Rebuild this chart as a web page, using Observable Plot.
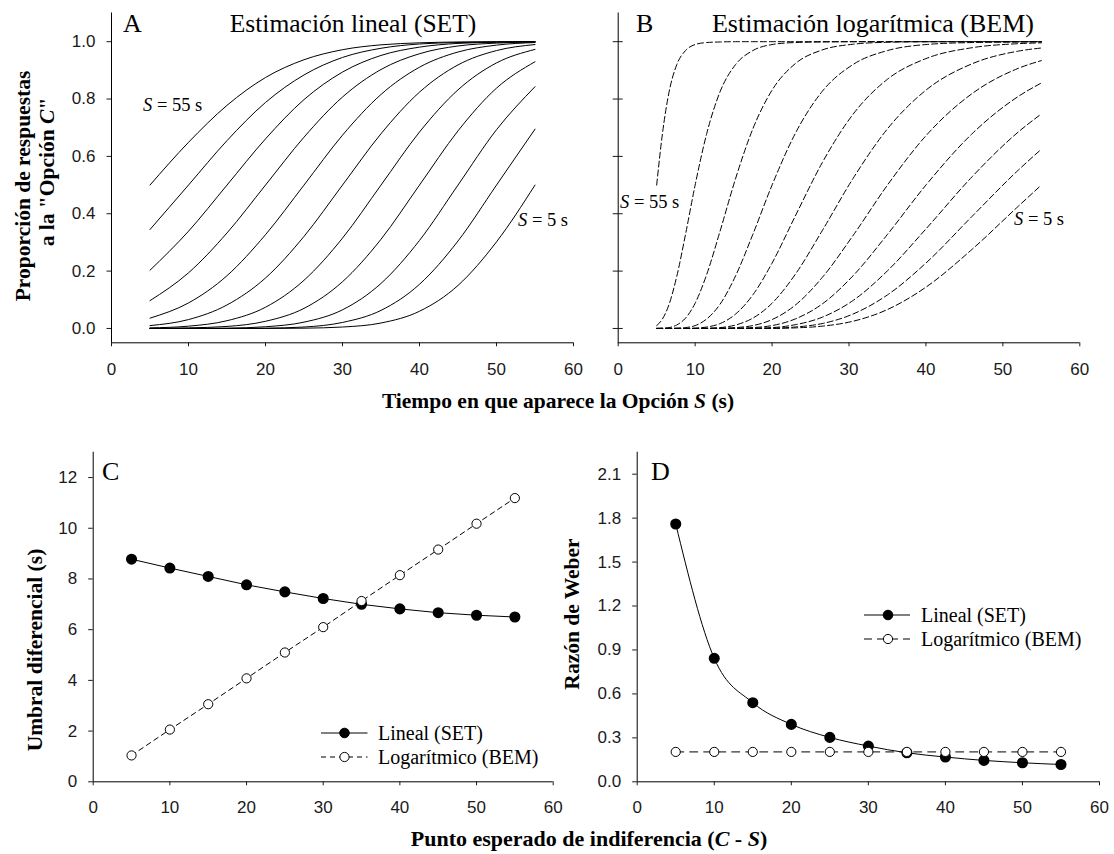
<!DOCTYPE html>
<html><head><meta charset="utf-8">
<script src="https://cdn.jsdelivr.net/npm/d3@7"></script>
<script src="https://cdn.jsdelivr.net/npm/@observablehq/plot@0.6"></script>
<style>
html,body{margin:0;padding:0;background:#fff;}
#fig{position:relative;width:1114px;height:854px;background:#fff;overflow:hidden;}
#fig svg{position:absolute;}
</style></head><body><div id="fig"></div>
<script>
// ---------- DATA ----------
const xTicks = [0, 10, 20, 30, 40, 50, 60];
const yTicksA = [0, 0.2, 0.4, 0.6, 0.8, 1.0];
const yTicksC = [0, 2, 4, 6, 8, 10, 12];
const yTicksD = [0, 0.3, 0.6, 0.9, 1.2, 1.5, 1.8, 2.1];
const yDomainA = [-0.05, 1.1];
const yDomainC = [0, 13];
const yDomainD = [0, 2.25];
const xDomain = [0, 60];

// curves labelled by S (s); S = 55 is the leftmost curve, S = 5 the rightmost
const curveS = [55, 50, 45, 40, 35, 30, 25, 20, 15, 10, 5];

// Panel A: linear estimation (SET) - proportion of "C" responses
const xA = [5, 10, 15, 20, 25, 30, 35, 40, 45, 50, 55];
const setCurves = [
  [0.500, 0.649, 0.778, 0.875, 0.937, 0.972, 0.989, 0.996, 0.999, 1.000, 1.000],
  [0.345, 0.500, 0.655, 0.788, 0.884, 0.945, 0.977, 0.992, 0.997, 0.999, 1.000],
  [0.203, 0.339, 0.500, 0.661, 0.798, 0.894, 0.952, 0.981, 0.994, 0.998, 1.000],
  [0.097, 0.194, 0.333, 0.500, 0.667, 0.807, 0.903, 0.958, 0.985, 0.995, 0.999],
  [0.036, 0.089, 0.184, 0.327, 0.500, 0.674, 0.816, 0.911, 0.964, 0.988, 0.997],
  [0.010, 0.031, 0.082, 0.176, 0.321, 0.500, 0.679, 0.824, 0.919, 0.969, 0.990],
  [0.002, 0.008, 0.027, 0.074, 0.168, 0.315, 0.500, 0.685, 0.832, 0.926, 0.973],
  [0.000, 0.002, 0.007, 0.025, 0.070, 0.163, 0.311, 0.500, 0.689, 0.838, 0.930],
  [0.000, 0.000, 0.001, 0.006, 0.022, 0.065, 0.157, 0.307, 0.500, 0.693, 0.843],
  [0.000, 0.000, 0.000, 0.001, 0.005, 0.021, 0.063, 0.154, 0.305, 0.500, 0.695],
  [0.000, 0.000, 0.000, 0.000, 0.001, 0.005, 0.019, 0.060, 0.150, 0.302, 0.500]
];

// Panel B: logarithmic estimation (BEM)
const xB = [5, 5.75, 6.6, 7.6, 8.75, 10, 11.5, 13.25, 15.25, 17.5, 20, 23, 26.5, 30.5, 35, 40, 46, 52, 55];
const bemCurves = [
  [0.500, 0.679, 0.823, 0.919, 0.969, 0.990, 0.997, 0.999, 1, 1, 1, 1, 1, 1, 1, 1, 1, 1, 1],
  [0.010, 0.033, 0.083, 0.180, 0.328, 0.500, 0.679, 0.826, 0.920, 0.969, 0.990, 0.997, 0.999, 1, 1, 1, 1, 1, 1],
  [0, 0.001, 0.003, 0.012, 0.036, 0.088, 0.188, 0.340, 0.522, 0.696, 0.831, 0.923, 0.971, 0.991, 0.998, 1, 1, 1, 1],
  [0, 0, 0, 0.001, 0.003, 0.010, 0.033, 0.085, 0.183, 0.328, 0.500, 0.679, 0.826, 0.920, 0.969, 0.990, 0.997, 0.999, 1.000],
  [0, 0, 0, 0, 0, 0.001, 0.005, 0.017, 0.050, 0.117, 0.228, 0.391, 0.577, 0.746, 0.869, 0.941, 0.979, 0.993, 0.996],
  [0, 0, 0, 0, 0, 0, 0.001, 0.003, 0.012, 0.036, 0.088, 0.188, 0.340, 0.522, 0.696, 0.831, 0.923, 0.967, 0.978],
  [0, 0, 0, 0, 0, 0, 0, 0.001, 0.003, 0.010, 0.031, 0.081, 0.177, 0.323, 0.500, 0.672, 0.819, 0.907, 0.934],
  [0, 0, 0, 0, 0, 0, 0, 0, 0.001, 0.003, 0.010, 0.033, 0.085, 0.183, 0.328, 0.500, 0.679, 0.809, 0.856],
  [0, 0, 0, 0, 0, 0, 0, 0, 0, 0.001, 0.003, 0.013, 0.039, 0.097, 0.201, 0.347, 0.529, 0.685, 0.748],
  [0, 0, 0, 0, 0, 0, 0, 0, 0, 0, 0.001, 0.005, 0.017, 0.050, 0.117, 0.228, 0.391, 0.552, 0.625],
  [0, 0, 0, 0, 0, 0, 0, 0, 0, 0, 0, 0.002, 0.008, 0.025, 0.066, 0.144, 0.276, 0.426, 0.500]
];

// Panels C and D: expected indifference point (C - S)
const xCD = [5, 10, 15, 20, 25, 30, 35, 40, 45, 50, 55];
const umbralSET = [8.78, 8.43, 8.10, 7.77, 7.49, 7.23, 7.00, 6.82, 6.67, 6.57, 6.50];
const umbralBEM = [1.04, 2.06, 3.06, 4.08, 5.10, 6.10, 7.13, 8.15, 9.16, 10.18, 11.19];
const weberSET = [1.76, 0.843, 0.54, 0.392, 0.303, 0.244, 0.198, 0.169, 0.146, 0.130, 0.118];
const weberBEM = [0.204, 0.204, 0.204, 0.204, 0.204, 0.204, 0.204, 0.204, 0.204, 0.204, 0.204];

// ---------- BUILD ----------
const rowsA = curveS.flatMap((s, i) => xA.map((x, j) => ({s, x, y: setCurves[i][j]})));
const rowsB = curveS.flatMap((s, i) => xB.map((x, j) => ({s, x, y: bemCurves[i][j]})));
const rowsCset = xCD.map((x, i) => ({x, y: umbralSET[i]}));
const rowsCbem = xCD.map((x, i) => ({x, y: umbralBEM[i]}));
const rowsDset = xCD.map((x, i) => ({x, y: weberSET[i]}));
const rowsDbem = xCD.map((x, i) => ({x, y: weberBEM[i]}));

const baseStyle = {fontFamily: "'Liberation Sans', Arial, sans-serif", fontSize: "17px", color: "#1a1a1a", background: "transparent", overflow: "visible"};
const f1 = d3.format(".1f");

function place(svg, left, top) {
  svg.style.left = left + "px";
  svg.style.top = top + "px";
  document.getElementById("fig").appendChild(svg);
}

const plotA = Plot.plot({
  width: 590, height: 400, marginLeft: 111, marginRight: 17, marginTop: 12.5, marginBottom: 57.7,
  x: {domain: xDomain}, y: {domain: yDomainA},
  style: baseStyle,
  marks: [
    Plot.ruleX([xDomain[0]], {stroke: "#000"}),
    Plot.ruleY([yDomainA[0]], {stroke: "#000"}),
    Plot.axisX(xTicks, {tickSize: 4, tickPadding: 16, label: null}),
    Plot.axisY(yTicksA, {tickSize: 4.5, tickPadding: 11.5, tickFormat: f1, label: null}),
    Plot.line(rowsA, {x: "x", y: "y", z: "s", curve: "monotone-x", stroke: "#000", strokeWidth: 1})
  ]
});
place(plotA, 0, 0);

const plotB = Plot.plot({
  width: 524, height: 400, marginLeft: 27.7, marginRight: 34.7, marginTop: 12.5, marginBottom: 57.7,
  x: {domain: xDomain}, y: {domain: yDomainA},
  style: baseStyle,
  marks: [
    Plot.ruleX([xDomain[0]], {stroke: "#000"}),
    Plot.ruleY([yDomainA[0]], {stroke: "#000"}),
    Plot.axisX(xTicks, {tickSize: 4, tickPadding: 16, label: null}),
    Plot.axisY(yTicksA, {tickSize: 10, dx: 5, tickFormat: () => "", label: null}),
    Plot.line(rowsB, {x: "x", y: "y", z: "s", curve: "monotone-x", stroke: "#000", strokeWidth: 1, strokeDasharray: "6,3"})
  ]
});
place(plotB, 590, 0);

const plotC = Plot.plot({
  width: 590, height: 424, marginLeft: 92.7, marginRight: 37.3, marginTop: 21.7, marginBottom: 72.7,
  x: {domain: xDomain}, y: {domain: yDomainC},
  style: baseStyle,
  marks: [
    Plot.ruleX([xDomain[0]], {stroke: "#000"}),
    Plot.ruleY([yDomainC[0]], {stroke: "#000"}),
    Plot.axisX(xTicks, {tickSize: 4, tickPadding: 15, label: null}),
    Plot.axisY(yTicksC, {tickSize: 4.5, tickPadding: 11.5, label: null}),
    Plot.line(rowsCbem, {x: "x", y: "y", stroke: "#000", strokeWidth: 1, strokeDasharray: "5,4"}),
    Plot.line(rowsCset, {x: "x", y: "y", stroke: "#000", strokeWidth: 1}),
    Plot.dot(rowsCset, {x: "x", y: "y", r: 4.8, fill: "#000", stroke: "#000"}),
    Plot.dot(rowsCbem, {x: "x", y: "y", r: 4.6, fill: "#fff", stroke: "#000", strokeWidth: 1})
  ]
});
place(plotC, 0, 430);

const plotD = Plot.plot({
  width: 524, height: 424, marginLeft: 46.7, marginRight: 15, marginTop: 21.7, marginBottom: 72.7,
  x: {domain: xDomain}, y: {domain: yDomainD},
  style: baseStyle,
  marks: [
    Plot.ruleX([xDomain[0]], {stroke: "#000"}),
    Plot.ruleY([yDomainD[0]], {stroke: "#000"}),
    Plot.axisX(xTicks, {tickSize: 4, tickPadding: 15, label: null}),
    Plot.axisY(yTicksD, {tickSize: 4.5, tickPadding: 11.5, tickFormat: f1, label: null}),
    Plot.line(rowsDbem, {x: "x", y: "y", stroke: "#000", strokeWidth: 1, strokeDasharray: "8,6"}),
    Plot.line(rowsDset, {x: "x", y: "y", curve: "monotone-x", stroke: "#000", strokeWidth: 1}),
    Plot.dot(rowsDset, {x: "x", y: "y", r: 4.8, fill: "#000", stroke: "#000"}),
    Plot.dot(rowsDbem, {x: "x", y: "y", r: 4.6, fill: "#fff", stroke: "#000", strokeWidth: 1})
  ]
});
place(plotD, 590, 430);

// ---------- TEXT OVERLAY (titles, labels, annotations, legends) ----------
const ns = "http://www.w3.org/2000/svg";
const ov = document.createElementNS(ns, "svg");
ov.setAttribute("width", 1114); ov.setAttribute("height", 854);
ov.style.left = "0px"; ov.style.top = "0px";
ov.setAttribute("font-family", "'Liberation Serif', 'Times New Roman', serif");
ov.innerHTML = `
  <g font-size="26" fill="#000">
    <text x="123" y="32">A</text>
    <text x="353" y="32" text-anchor="middle" font-size="25.5">Estimación lineal (SET)</text>
    <text x="636" y="32">B</text>
    <text x="873" y="32" text-anchor="middle">Estimación logarítmica (BEM)</text>
    <text x="102" y="480">C</text>
    <text x="651" y="480">D</text>
  </g>
  <g font-size="21.5" font-weight="bold" fill="#000">
    <text transform="translate(30,186) rotate(-90)" text-anchor="middle">Proporción de respuestas</text>
    <text transform="translate(54,172) rotate(-90)" text-anchor="middle">a la "Opción <tspan font-style="italic">C</tspan>"</text>
    <text transform="translate(42,650) rotate(-90)" text-anchor="middle">Umbral diferencial (s)</text>
    <text transform="translate(579,614) rotate(-90)" text-anchor="middle">Razón de Weber</text>
    <text x="558" y="408" text-anchor="middle">Tiempo en que aparece la Opción <tspan font-style="italic">S</tspan> (s)</text>
    <text x="589" y="846" text-anchor="middle" font-size="22">Punto esperado de indiferencia (<tspan font-style="italic">C</tspan> - <tspan font-style="italic">S</tspan>)</text>
  </g>
  <g font-size="18.5" fill="#000">
    <text x="143" y="111"><tspan font-style="italic">S</tspan> = 55 s</text>
    <text x="518" y="226"><tspan font-style="italic">S</tspan> = 5 s</text>
    <text x="620" y="208"><tspan font-style="italic">S</tspan> = 55 s</text>
    <text x="1014" y="225"><tspan font-style="italic">S</tspan> = 5 s</text>
  </g>
  <g font-size="20" fill="#000">
    <line x1="321" x2="367.5" y1="733" y2="733" stroke="#000"/>
    <circle cx="344.5" cy="733" r="4.8" fill="#000" stroke="#000"/>
    <text x="378" y="739.5">Lineal (SET)</text>
    <line x1="321" x2="367.5" y1="757" y2="757" stroke="#000" stroke-dasharray="5,4"/>
    <circle cx="344.5" cy="757" r="4.6" fill="#fff" stroke="#000"/>
    <text x="378" y="763.5">Logarítmico (BEM)</text>

    <line x1="864" x2="910" y1="615" y2="615" stroke="#000"/>
    <circle cx="888" cy="615" r="4.8" fill="#000" stroke="#000"/>
    <text x="921" y="621.5">Lineal (SET)</text>
    <line x1="864" x2="910" y1="639" y2="639" stroke="#000" stroke-dasharray="8,5"/>
    <circle cx="888" cy="639" r="4.6" fill="#fff" stroke="#000"/>
    <text x="921" y="645.5">Logarítmico (BEM)</text>
  </g>
`;
document.getElementById("fig").appendChild(ov);
</script></body></html>
